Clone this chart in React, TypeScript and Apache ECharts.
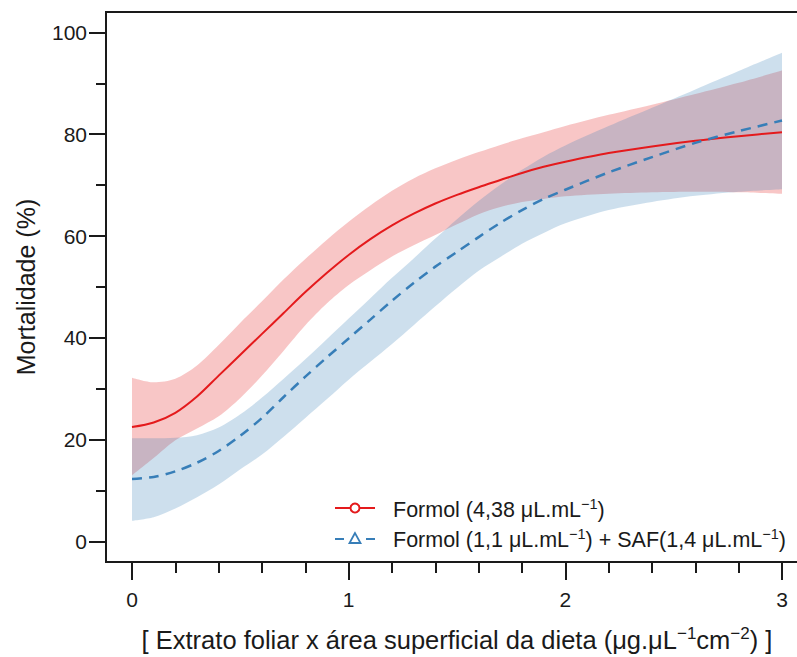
import React, { useEffect, useRef } from "react";
import * as echarts from "echarts";

// ---- data ----
const xValues = [0, 0.1, 0.2, 0.3, 0.4, 0.5, 0.6, 0.7, 0.8, 0.9, 1.0, 1.1, 1.2, 1.3, 1.4, 1.5, 1.6, 1.7, 1.8, 1.9, 2.0, 2.2, 2.4, 2.6, 2.8, 3.0];

const redMean = [22.5, 23.4, 25.3, 28.5, 32.6, 36.7, 40.8, 44.9, 49.0, 52.8, 56.3, 59.4, 62.1, 64.4, 66.4, 68.1, 69.6, 71.0, 72.4, 73.6, 74.6, 76.3, 77.6, 78.7, 79.6, 80.4];
const redUpper = [32.2, 31.3, 32.0, 34.6, 38.6, 43.0, 47.2, 51.5, 55.5, 59.3, 62.8, 66.0, 68.9, 71.3, 73.3, 75.0, 76.5, 77.9, 79.2, 80.4, 81.6, 83.8, 85.8, 87.9, 90.1, 92.5];
const redLower = [13.0, 16.4, 19.9, 22.2, 24.6, 28.2, 32.6, 37.5, 42.5, 46.8, 50.4, 53.3, 56.0, 58.2, 60.2, 62.3, 64.3, 65.7, 66.7, 67.3, 67.8, 68.3, 68.6, 68.7, 68.6, 68.3];

const blueMean = [12.3, 12.7, 13.8, 15.5, 17.8, 20.8, 24.3, 28.4, 32.4, 36.2, 39.9, 43.6, 47.3, 50.8, 54.0, 56.9, 59.8, 62.6, 65.1, 67.3, 69.1, 72.5, 75.5, 78.3, 80.6, 82.7];
const blueUpper = [20.3, 20.3, 20.4, 20.9, 22.4, 25.0, 28.3, 32.0, 35.8, 39.8, 43.8, 47.8, 51.8, 55.6, 59.5, 63.3, 66.9, 70.1, 73.0, 75.6, 77.8, 81.6, 85.2, 88.8, 92.4, 96.0];
const blueLower = [4.1, 4.8, 6.5, 8.7, 11.2, 14.2, 17.1, 20.6, 24.3, 28.0, 31.8, 35.3, 38.8, 42.5, 46.2, 49.8, 53.2, 55.9, 58.5, 60.6, 62.5, 65.1, 66.7, 67.9, 68.7, 69.2];

const xTickMajor = [0, 1, 2, 3];
const xTickMinor = [0.2, 0.4, 0.6, 0.8, 1.2, 1.4, 1.6, 1.8, 2.2, 2.4, 2.6, 2.8];
const yTickMajor = [0, 20, 40, 60, 80, 100];
const yTickMinor = [10, 30, 50, 70, 90];

const FONT = '"Liberation Sans", Arial, Helvetica, sans-serif';
const RED = "#E41A1C";
const BLUE = "#377EB8";
const INK = "#1a1a1a";

export default function App() {
  const ref = useRef<HTMLDivElement>(null);

  useEffect(() => {
    document.body.style.margin = "0";
    const chart = echarts.init(ref.current as HTMLDivElement, null, { renderer: "svg" });

    const pair = (ys: number[]) => xValues.map((x, i) => [x, ys[i]]);
    // value first so that the stack is applied to the y dimension
    const pairYX = (ys: number[]) => xValues.map((x, i) => [ys[i], x]);
    const diffYX = (a: number[], b: number[]) => xValues.map((x, i) => [+(a[i] - b[i]).toFixed(3), x]);

    const axisLineStyle = { color: INK, width: 2 };
    const smooth = 0.3;
    const hidden = { opacity: 0, width: 0 };
    const bandEncode = { x: 1, y: 0 };

    const legendRich = {
      n: { fontSize: 21.5, fontFamily: FONT, fill: INK, color: INK, lineHeight: 27 },
      s: { fontSize: 14.5, fontFamily: FONT, fill: INK, color: INK, lineHeight: 14, verticalAlign: "top" },
    };
    const titleRich = {
      n: { fontSize: 25.5, fontFamily: FONT, fill: INK, color: INK, lineHeight: 31 },
      s: { fontSize: 17, fontFamily: FONT, fill: INK, color: INK, lineHeight: 17, verticalAlign: "top" },
    };

    const option: any = {
      animation: false,
      backgroundColor: "#ffffff",
      textStyle: { fontFamily: FONT },
      grid: {
        left: 106,
        top: 12,
        width: 702,
        height: 550,
        show: true,
        borderColor: INK,
        borderWidth: 2,
        backgroundColor: "transparent",
        containLabel: false,
        outerBoundsMode: "none",
      },
      xAxis: [
        {
          type: "value",
          min: -0.12,
          max: 3.12,
          position: "bottom",
          axisLine: { show: true, onZero: false, lineStyle: axisLineStyle },
          axisTick: { show: true, customValues: xTickMajor, length: 18, lineStyle: axisLineStyle },
          axisLabel: {
            show: true,
            customValues: xTickMajor,
            margin: 27,
            fontSize: 21,
            color: INK,
            fontFamily: FONT,
            formatter: (v: number) => String(Math.round(v)),
          },
          splitLine: { show: false },
        },
        {
          type: "value",
          min: -0.12,
          max: 3.12,
          position: "bottom",
          axisLine: { show: false, onZero: false },
          axisTick: { show: true, customValues: xTickMinor, length: 11, lineStyle: axisLineStyle },
          axisLabel: { show: false },
          splitLine: { show: false },
        },
      ],
      yAxis: [
        {
          type: "value",
          min: -4,
          max: 104,
          position: "left",
          axisLine: { show: true, onZero: false, lineStyle: axisLineStyle },
          axisTick: { show: true, customValues: yTickMajor, length: 17, lineStyle: axisLineStyle },
          axisLabel: {
            show: true,
            customValues: yTickMajor,
            margin: 19,
            fontSize: 21,
            color: INK,
            fontFamily: FONT,
            formatter: (v: number) => String(Math.round(v)),
          },
          splitLine: { show: false },
        },
        {
          type: "value",
          min: -4,
          max: 104,
          position: "left",
          axisLine: { show: false, onZero: false },
          axisTick: { show: true, customValues: yTickMinor, length: 10, lineStyle: axisLineStyle },
          axisLabel: { show: false },
          splitLine: { show: false },
        },
      ],
      series: [
        {
          name: "redLowerBase",
          type: "line",
          stack: "red",
          data: pairYX(redLower),
          encode: bandEncode,
          symbol: "none",
          smooth,
          silent: true,
          lineStyle: hidden,
        },
        {
          name: "redBand",
          type: "line",
          stack: "red",
          data: diffYX(redUpper, redLower),
          encode: bandEncode,
          symbol: "none",
          smooth,
          silent: true,
          lineStyle: hidden,
          areaStyle: { color: "rgba(228,26,28,0.25)", opacity: 1 },
        },
        {
          name: "Formol (4,38 μL.mL−1)",
          type: "line",
          data: pair(redMean),
          symbol: "none",
          smooth,
          lineStyle: { color: RED, width: 2 },
        },
        {
          name: "blueLowerBase",
          type: "line",
          stack: "blue",
          data: pairYX(blueLower),
          encode: bandEncode,
          symbol: "none",
          smooth,
          silent: true,
          lineStyle: hidden,
        },
        {
          name: "blueBand",
          type: "line",
          stack: "blue",
          data: diffYX(blueUpper, blueLower),
          encode: bandEncode,
          symbol: "none",
          smooth,
          silent: true,
          lineStyle: hidden,
          areaStyle: { color: "rgba(55,126,184,0.25)", opacity: 1 },
        },
        {
          name: "Formol (1,1 μL.mL−1) + SAF(1,4 μL.mL−1)",
          type: "line",
          data: pair(blueMean),
          symbol: "none",
          smooth,
          lineStyle: { color: BLUE, width: 2.5, type: [10, 7] },
        },
      ],
      graphic: [
        {
          type: "text",
          x: 26,
          y: 287,
          rotation: Math.PI / 2,
          style: {
            text: "Mortalidade (%)",
            fontSize: 25,
            fontFamily: FONT,
            fill: INK,
            align: "center",
            textAlign: "center",
            verticalAlign: "middle",
            textVerticalAlign: "middle",
          },
        },
        {
          type: "text",
          x: 457,
          y: 640,
          style: {
            text: "{n|[ Extrato foliar x área superficial da dieta (μg.μL}{s|−1}{n|cm}{s|−2}{n|) ]}",
            rich: titleRich,
            fill: INK,
            align: "center",
            textAlign: "center",
            verticalAlign: "middle",
            textVerticalAlign: "middle",
          },
        },
        {
          type: "line",
          shape: { x1: 335, y1: 508, x2: 375, y2: 508 },
          style: { stroke: RED, lineWidth: 2 },
        },
        {
          type: "circle",
          shape: { cx: 355, cy: 508, r: 4.5 },
          style: { fill: "#ffffff", stroke: RED, lineWidth: 2 },
        },
        {
          type: "text",
          x: 393,
          y: 510,
          style: {
            text: "{n|Formol (4,38 μL.mL}{s|−1}{n|)}",
            rich: legendRich,
            fill: INK,
            align: "left",
            textAlign: "left",
            verticalAlign: "middle",
            textVerticalAlign: "middle",
          },
        },
        {
          type: "line",
          shape: { x1: 335, y1: 539, x2: 344, y2: 539 },
          style: { stroke: BLUE, lineWidth: 2 },
        },
        {
          type: "line",
          shape: { x1: 366, y1: 539, x2: 375, y2: 539 },
          style: { stroke: BLUE, lineWidth: 2 },
        },
        {
          type: "polygon",
          shape: { points: [[355, 533], [349.5, 543], [360.5, 543]] },
          style: { fill: "#ffffff", stroke: BLUE, lineWidth: 1.8 },
        },
        {
          type: "text",
          x: 393,
          y: 540,
          style: {
            text: "{n|Formol (1,1 μL.mL}{s|−1}{n|) + SAF(1,4 μL.mL}{s|−1}{n|)}",
            rich: legendRich,
            fill: INK,
            align: "left",
            textAlign: "left",
            verticalAlign: "middle",
            textVerticalAlign: "middle",
          },
        },
      ],
    };

    chart.setOption(option);
    return () => chart.dispose();
  }, []);

  return (
    <div
      ref={ref}
      style={{ position: "absolute", left: 0, top: 0, width: 797, height: 657, background: "#fff" }}
    />
  );
}
